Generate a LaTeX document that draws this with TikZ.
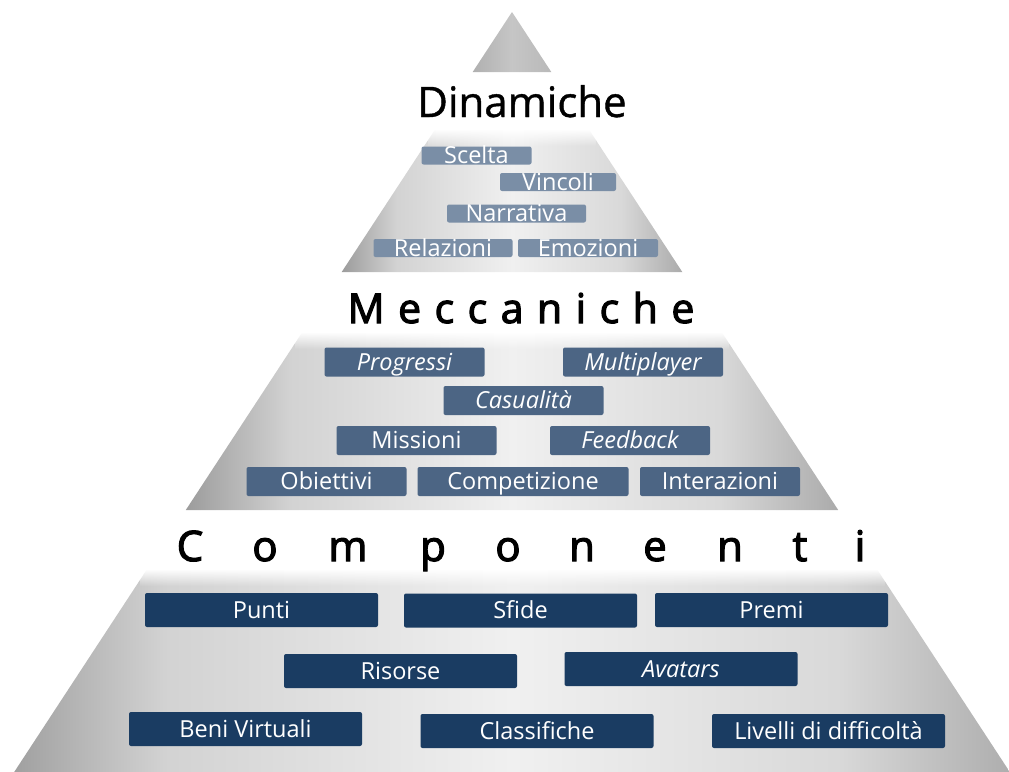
\documentclass[tikz,border=0pt]{standalone}
\usepackage{fontspec}
\setmainfont{Open Sans}
\usetikzlibrary{fadings}

\definecolor{pyrEdge}{RGB}{156,156,156}
\definecolor{pyrMid}{RGB}{240,240,240}
\definecolor{dinBox}{RGB}{122,142,166}
\definecolor{mecBox}{RGB}{76,101,132}
\definecolor{comBox}{RGB}{26,60,98}

\pgfdeclarehorizontalshading{pyrshade}{100bp}{color(0bp)=(pyrEdge); color(25bp)=(pyrEdge);
  color(33bp)=(gray!35); color(50bp)=(pyrMid); color(66bp)=(gray!30);
  color(75bp)=(pyrEdge!85); color(100bp)=(pyrEdge!85)}
\tikzfading[name=fadetop, top color=transparent!0, bottom color=transparent!100]

\tikzset{
  section/.style={shading=pyrshade},
  boxbase/.style={rounded corners=2pt, inner sep=0pt, text=white, text depth=0pt,
    font=\fontsize{23.5}{26}\selectfont},
  dinbox/.style={boxbase, fill=dinBox, minimum height=18pt, text height=16pt},
  mecbox/.style={boxbase, fill=mecBox, minimum width=160pt, minimum height=29pt, text height=16.5pt},
  combox/.style={boxbase, fill=comBox, minimum width=233pt, minimum height=34pt, text height=16.5pt},
  title/.style={anchor=base, text=black, font=\fontsize{42}{46}\selectfont\addfontfeature{FakeBold=2.8}},
}

\begin{document}
\begin{tikzpicture}[x=1pt, y=-1pt]
        \useasboundingbox (0,0) rectangle (1009,771);

        % Half width of the pyramid at height y (apex at 512,12)
        \def\halfw(#1){0.655*((#1)-12)}
        % One slice of the pyramid between two heights
        \def\pyrsection(#1,#2){
          \shade[section] ({512-\halfw(#1)},#1) -- ({512+\halfw(#1)},#1)
            -- ({512+\halfw(#2)},#2) -- ({512-\halfw(#2)},#2) -- cycle;
          \fill[white, path fading=fadetop] ({505-\halfw(#1)},#1-1) rectangle ({519+\halfw(#1)},#1+16);
        }

        % Top of the pyramid
        \shade[left color=gray!62, right color=gray!55, middle color=gray!45]
          (512,12) -- ({512+\halfw(72)},72) -- ({512-\halfw(72)},72) -- cycle;

        \pyrsection(130,272)
        \pyrsection(333,510)
        \pyrsection(570,790)

        % Titles
        \node[title, font=\fontsize{42}{46}\selectfont\addfontfeature{FakeBold=1}] (dinamiche) at (522,117) {Dinamiche};
        \node[title, font=\fontsize{41}{44}\selectfont\addfontfeature{FakeBold=2.8, LetterSpace=33}] (meccaniche) at (521,323) {Meccaniche};
        \foreach \l/\x [count=\i] in {C/190, o/265, m/348, p/433, o/508, n/582, e/655, n/730, t/800, i/860}
          \node[title] (comp\i) at (\x,561) {\l};

        % Dinamiche
        \node[dinbox, minimum width=110pt] (scelta) at (476.5,155.5) {Scelta};
        \node[dinbox, minimum width=116pt] (vincoli) at (558,182) {Vincoli};
        \node[dinbox, minimum width=139pt] (narrativa) at (516.5,213.5) {Narrativa};
        \node[dinbox, minimum width=139pt] (relazioni) at (443,248) {Relazioni};
        \node[dinbox, minimum width=140pt] (emozioni) at (588,248) {Emozioni};

        % Meccaniche
        \node[mecbox] (progressi) at (404.5,362) {\itshape Progressi};
        \node[mecbox] (multiplayer) at (643,362) {\itshape Multiplayer};
        \node[mecbox] (casualita) at (523.5,400.5) {\itshape Casualità};
        \node[mecbox] (missioni) at (416.5,440.5) {Missioni};
        \node[mecbox] (feedback) at (630,440.5) {\itshape Feedback};
        \node[mecbox] (obiettivi) at (326.5,481.5) {Obiettivi};
        \node[mecbox, minimum width=211pt] (competizione) at (523,481.5) {Competizione};
        \node[mecbox] (interazioni) at (720,481.5) {Interazioni};

        % Componenti
        \node[combox] (punti) at (261.5,610) {Punti};
        \node[combox] (sfide) at (520.5,610.5) {Sfide};
        \node[combox] (premi) at (771.5,610) {Premi};
        \node[combox] (risorse) at (400.5,671) {Risorse};
        \node[combox] (avatars) at (681,669) {\itshape Avatars};
        \node[combox] (beni) at (245.5,729) {Beni Virtuali};
        \node[combox] (classifiche) at (537,731) {Classifiche};
        \node[combox] (livelli) at (828.5,731) {Livelli di difficoltà};

\end{tikzpicture}
\end{document}
